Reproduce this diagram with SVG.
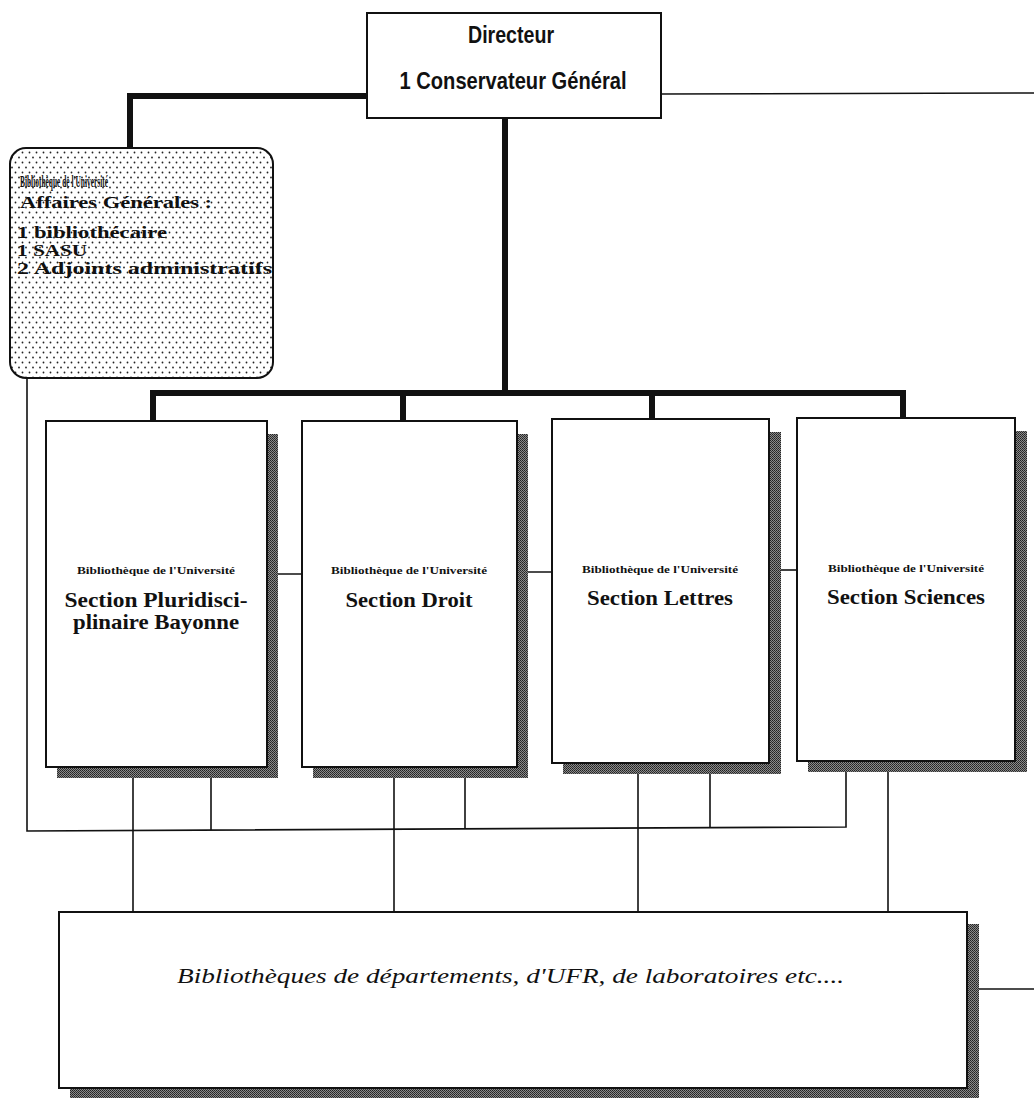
<svg xmlns="http://www.w3.org/2000/svg" width="1034" height="1098" viewBox="0 0 1034 1098">
<style>
.box{fill:#fff;stroke:#111;stroke-width:2}
.shadow{fill:url(#stipple)}
.thick{stroke:#111;stroke-width:6;fill:none}
.thin{stroke:#111;stroke-width:1.6;fill:none}
.dir{font-family:"Liberation Sans",Arial,sans-serif;font-weight:bold;font-size:24px;fill:#111;text-anchor:middle}
.small{font-family:"Liberation Serif","Times New Roman",serif;font-weight:bold;font-size:11px;fill:#111;text-anchor:middle}
.title{font-family:"Liberation Serif","Times New Roman",serif;font-weight:bold;font-size:21px;fill:#111;text-anchor:middle}
.ag{font-family:"Liberation Serif","Times New Roman",serif;font-weight:bold;font-size:16px;fill:#111}
.ital{font-family:"Liberation Serif","Times New Roman",serif;font-style:italic;font-size:20px;fill:#111}
</style>
<defs>
<pattern id="stipple" width="2" height="2" patternUnits="userSpaceOnUse">
<rect width="2" height="2" fill="#8a8a8a"/>
<rect width="1" height="1" fill="#222"/>
<rect x="1" y="1" width="1" height="1" fill="#333"/>
</pattern>
<pattern id="dots" width="7" height="10" patternUnits="userSpaceOnUse">
<rect width="7" height="10" fill="#fff"/>
<circle cx="1.5" cy="2.5" r="0.9" fill="#222"/>
<circle cx="5" cy="7.5" r="0.9" fill="#222"/>
</pattern>
</defs>

<g id="connectors">
<path class="thick" d="M367,96 H130 V148"/>
<path class="thick" d="M505,118 V393"/>
<path class="thick" d="M153,421 V393 H903 V418"/>
<path class="thick" d="M403,393 V421"/>
<path class="thick" d="M652,393 V419"/>
<path class="thin" d="M661,94 L1034,93"/>
<path class="thin" d="M27,378 V831 L846,827 V772"/>
<path class="thin" d="M211,778 V830"/>
<path class="thin" d="M465,778 V829"/>
<path class="thin" d="M710,774 V828"/>
<path class="thin" d="M133,778 V912"/>
<path class="thin" d="M394,778 V912"/>
<path class="thin" d="M638,774 V912"/>
<path class="thin" d="M888,772 V912"/>
<path class="thin" d="M267,574 H302"/>
<path class="thin" d="M517,572 H552"/>
<path class="thin" d="M769,570 H797"/>
<path class="thin" d="M967,989 H1034"/>
</g>

<g id="directeur">
<rect class="box" x="367" y="13" width="294" height="105"/>
<text class="dir" x="511" y="43" textLength="86" lengthAdjust="spacingAndGlyphs">Directeur</text>
<text class="dir" x="513" y="89" textLength="227" lengthAdjust="spacingAndGlyphs">1 Conservateur Général</text>
</g>

<g id="affaires-generales">
<rect x="10" y="148" width="263" height="230" rx="16" ry="16" fill="url(#dots)" stroke="#111" stroke-width="2"/>
<text class="ag" x="20" y="187" font-size="9" textLength="88" lengthAdjust="spacingAndGlyphs">Bibliothèque de l'Université</text>
<text class="ag" x="20" y="208" font-size="19" textLength="192" lengthAdjust="spacingAndGlyphs">Affaires Générales :</text>
<text class="ag" x="17" y="238" textLength="150" lengthAdjust="spacingAndGlyphs">1 bibliothécaire</text>
<text class="ag" x="17" y="256" textLength="70" lengthAdjust="spacingAndGlyphs">1 SASU</text>
<text class="ag" x="17" y="274" textLength="255" lengthAdjust="spacingAndGlyphs">2 Adjoints administratifs</text>
</g>

<g id="section-bayonne">
<rect class="shadow" x="57" y="434" width="221" height="344"/>
<rect class="box" x="46" y="421" width="221" height="346"/>
<text class="small" x="156" y="574" textLength="158" lengthAdjust="spacingAndGlyphs">Bibliothèque de l'Université</text>
<text class="title" x="156" y="607" textLength="183" lengthAdjust="spacingAndGlyphs">Section Pluridisci-</text>
<text class="title" x="156" y="629" textLength="166" lengthAdjust="spacingAndGlyphs">plinaire Bayonne</text>
</g>

<g id="section-droit">
<rect class="shadow" x="313" y="434" width="215" height="344"/>
<rect class="box" x="302" y="421" width="215" height="346"/>
<text class="small" x="409" y="574" textLength="156" lengthAdjust="spacingAndGlyphs">Bibliothèque de l'Université</text>
<text class="title" x="409" y="607" textLength="127" lengthAdjust="spacingAndGlyphs">Section Droit</text>
</g>

<g id="section-lettres">
<rect class="shadow" x="563" y="432" width="218" height="342"/>
<rect class="box" x="552" y="419" width="217" height="344"/>
<text class="small" x="660" y="573" textLength="156" lengthAdjust="spacingAndGlyphs">Bibliothèque de l'Université</text>
<text class="title" x="660" y="605" textLength="146" lengthAdjust="spacingAndGlyphs">Section Lettres</text>
</g>

<g id="section-sciences">
<rect class="shadow" x="808" y="431" width="219" height="341"/>
<rect class="box" x="797" y="418" width="218" height="343"/>
<text class="small" x="906" y="572" textLength="156" lengthAdjust="spacingAndGlyphs">Bibliothèque de l'Université</text>
<text class="title" x="906" y="604" textLength="158" lengthAdjust="spacingAndGlyphs">Section Sciences</text>
</g>

<g id="bibliotheques-departements">
<rect class="shadow" x="70" y="924" width="909" height="180"/>
<rect class="box" x="59" y="912" width="908" height="176"/>
<text class="ital" x="177" y="983" textLength="667" lengthAdjust="spacingAndGlyphs">Bibliothèques de départements, d'UFR, de laboratoires etc....</text>
</g>
</svg>
